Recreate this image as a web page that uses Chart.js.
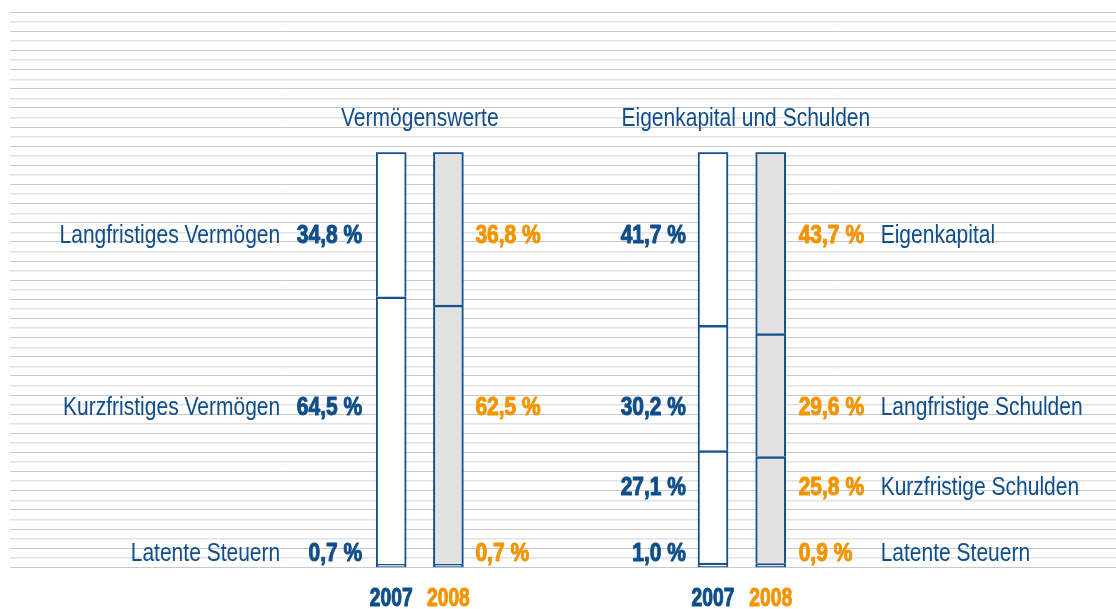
<!DOCTYPE html>
<html>
<head>
<meta charset="utf-8">
<script src="https://cdn.jsdelivr.net/npm/chart.js@4"></script>
<style>
  html, body { margin: 0; padding: 0; background: #ffffff; }
  #wrap { position: relative; width: 1116px; height: 609px; }
  #wrap canvas { position: absolute; left: 0; top: 0; }
</style>
</head>
<body>
<div id="wrap">
  <canvas id="grid" width="1116" height="609"></canvas>
  <canvas id="left" width="1116" height="609"></canvas>
  <canvas id="right" width="1116" height="609"></canvas>
</div>
<script>
// ---------- data ----------
const years = ['2007', '2008'];

const assetsTitle = 'Vermögenswerte';
const assetsCategories = ['Latente Steuern', 'Kurzfristiges Vermögen', 'Langfristiges Vermögen'];
const assets2007 = [0.7, 64.5, 34.8];
const assets2008 = [0.7, 62.5, 36.8];

const liabTitle = 'Eigenkapital und Schulden';
const liabCategories = ['Latente Steuern', 'Kurzfristige Schulden', 'Langfristige Schulden', 'Eigenkapital'];
const liab2007 = [1.0, 27.1, 30.2, 41.7];
const liab2008 = [0.9, 25.8, 29.6, 43.7];

// ---------- styles ----------
const BLUE = '#104e8b';
const ORANGE = '#f39400';
const BAR_LINE = '#15528f';
const FILL = ['#ffffff', '#e1e1e1'];
const FONT = "'Liberation Sans', Arial, sans-serif";
const FS = 25;
const SX = 0.84;   // horizontal condensing of the text

function fmt(v) { return v.toFixed(1).replace('.', ',') + ' %'; }

function condensedText(ctx, text, x, yMid, font, color, align, size, sx, heavy) {
  ctx.save();
  ctx.font = font;
  ctx.fillStyle = color;
  ctx.strokeStyle = color;
  ctx.textAlign = align;
  ctx.textBaseline = 'alphabetic';
  ctx.translate(x, yMid + 0.358 * size);
  ctx.scale(sx, 1);
  ctx.fillText(text, 0, 0);
  if (heavy) {
    ctx.lineWidth = heavy;
    ctx.lineJoin = 'round';
    ctx.strokeText(text, 0, 0);
  }
  ctx.restore();
}

// ---------- background grid ----------
new Chart(document.getElementById('grid'), {
  type: 'line',
  data: { labels: [], datasets: [] },
  options: {
    responsive: false, animation: false,
    layout: { padding: { left: 10, right: 0, top: 12.3, bottom: 41.7 } },
    plugins: { legend: { display: false }, title: { display: false }, tooltip: { enabled: false } },
    scales: {
      x: { display: false },
      y: {
        min: 0, max: 58,
        border: { display: false },
        ticks: { stepSize: 1, display: false },
        grid: {
          drawTicks: false,
          color: (c) => (c.index % 2 === 0 ? '#c8c8c8' : '#e2e2e2'),
          lineWidth: (c) => (c.index % 2 === 0 ? 1 : 1.4)
        },
        afterFit: (s) => { s.width = 0; }
      }
    }
  }
});

// ---------- label plugin ----------
const sideLabels = {
  id: 'sideLabels',
  afterDatasetsDraw(chart, args, opts) {
    const ctx = chart.ctx;
    const y = chart.scales.y;
    const x = chart.scales.x;
    const m0 = chart.getDatasetMeta(0).data;
    const b1 = m0[0], b2 = m0[1];
    const b1Left = b1.x - b1.width / 2;
    const b2Right = b2.x + b2.width / 2;
    const bold = 'bold ' + FS + 'px ' + FONT;
    const reg = FS + 'px ' + FONT;

    // title
    const ca = chart.chartArea;
    condensedText(ctx, opts.title, (ca.left + ca.right) / 2 + opts.titleShift, opts.titleY,
      reg, BLUE, 'center', FS, SX, 0);

    // year labels under the bars (positions from the category scale)
    chart.data.labels.forEach((lab, i) => {
      condensedText(ctx, lab, x.getPixelForTick(i), opts.yearY,
        'bold 26px ' + FONT, i === 0 ? BLUE : ORANGE, 'center', 26, 0.74, 1.1);
    });

    chart.data.datasets.forEach((ds, i) => {
      const py = y.getPixelForValue(opts.rows[i]);
      condensedText(ctx, fmt(ds.data[0]), b1Left - opts.gapLeft, py, bold, BLUE, 'right', FS, SX, 1);
      condensedText(ctx, fmt(ds.data[1]), b2Right + opts.gapRight, py, bold, ORANGE, 'left', FS, SX, 1);
      if (opts.side === 'left') {
        condensedText(ctx, ds.label, b1Left - opts.nameGap, py, reg, BLUE, 'right', FS, SX, 0);
      } else {
        condensedText(ctx, ds.label, b2Right + opts.nameGap, py, reg, BLUE, 'left', FS, SX, 0);
      }
    });
  }
};

function borderFor(i, n) {
  if (i === n - 1) return { top: 2, left: 2, right: 2, bottom: 0 };
  if (i === 0) return { top: 2.5, left: 2, right: 2, bottom: 1.5 };
  return { top: 2.5, left: 2, right: 2, bottom: 0 };
}

function makeChart(id, title, cats, v2007, v2008, padL, padR, side, rows, gapLeft, gapRight, nameGap, titleShift) {
  const datasets = cats.map((c, i) => ({
    label: c,
    data: [v2007[i], v2008[i]],
    backgroundColor: FILL,
    borderColor: BAR_LINE,
    borderWidth: borderFor(i, cats.length),
    borderSkipped: false,
    barThickness: 30
  }));
  return new Chart(document.getElementById(id), {
    type: 'bar',
    data: { labels: years, datasets },
    plugins: [sideLabels],
    options: {
      responsive: false, animation: false,
      layout: { padding: { left: padL, right: padR, top: 152.3, bottom: 0 } },
      plugins: {
        legend: { display: false },
        tooltip: { enabled: false },
        title: { display: false },
        sideLabels: { side, rows, gapLeft, gapRight, nameGap, title, titleShift, titleY: 117, yearY: 597 }
      },
      scales: {
        x: {
          stacked: true,
          border: { display: false },
          grid: { display: false, drawTicks: false },
          ticks: { display: false, maxRotation: 0, minRotation: 0 },
          afterFit: (s) => { s.height = 41.7; }
        },
        y: {
          stacked: true, display: false, min: 0, max: 100
        }
      }
    }
  });
}

makeChart('left', assetsTitle, assetsCategories, assets2007, assets2008,
  362.6, 639, 'left', [3.7, 38.9, 80.3], 14, 12, 96, 0);
makeChart('right', liabTitle, liabCategories, liab2007, liab2008,
  684.2, 316.5, 'right', [3.7, 19.6, 38.9, 80.3], 12, 13, 95, 4);
</script>
</body>
</html>
